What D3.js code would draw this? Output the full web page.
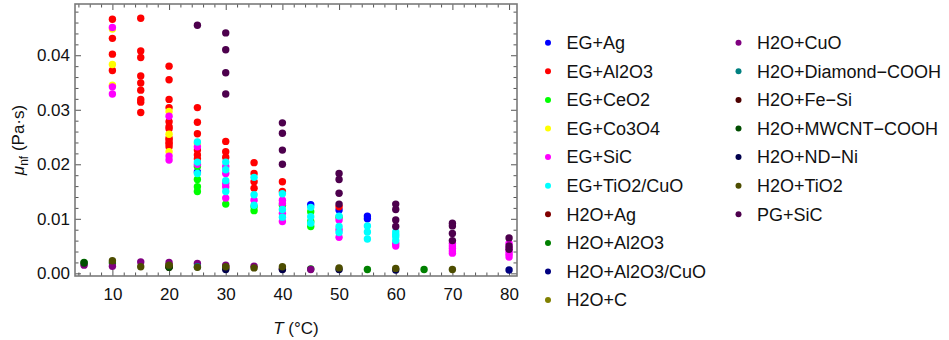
<!DOCTYPE html>
<html>
<head>
<meta charset="utf-8">
<script src="https://cdn.jsdelivr.net/npm/d3@7"></script>
<style>
  body { margin: 0; background: #fff; }
  svg { font-family: "Liberation Sans", Arial, sans-serif; }
</style>
</head>
<body>
<div id="chart"></div>
<script>
// series names and colours, in legend / drawing order
var seriesNames = ['EG+Ag', 'EG+Al2O3', 'EG+CeO2', 'EG+Co3O4', 'EG+SiC', 'EG+TiO2/CuO',
  'H2O+Ag', 'H2O+Al2O3', 'H2O+Al2O3/CuO', 'H2O+C', 'H2O+CuO', 'H2O+Diamond\u2212COOH',
  'H2O+Fe\u2212Si', 'H2O+MWCNT\u2212COOH', 'H2O+ND\u2212Ni', 'H2O+TiO2', 'PG+SiC'];
var seriesColors = ['#0000ff', '#ff0000', '#00ff00', '#ffff00', '#ff00ff', '#00ffff',
  '#800000', '#008000', '#000080', '#808000', '#800080', '#008080',
  '#4d0000', '#004d00', '#00004d', '#4d4d00', '#4d004d'];

// [T (°C), viscosity (Pa·s)]
var egAg = [[25, 0.0186], [45, 0.0126], [50, 0.0116], [55, 0.0105], [55, 0.0100]];
var egAl2o3 = [
  [10, 0.0466], [10, 0.0431], [10, 0.0402], [10, 0.0372],
  [15, 0.0468], [15, 0.0408], [15, 0.0396], [15, 0.0362], [15, 0.0349], [15, 0.0336], [15, 0.0319], [15, 0.0314], [15, 0.0295],
  [20, 0.0380], [20, 0.0355], [20, 0.0319], [20, 0.0304], [20, 0.0278], [20, 0.0269], [20, 0.0265], [20, 0.0248], [20, 0.0245], [20, 0.0240], [20, 0.0237], [20, 0.0232],
  [25, 0.0304], [25, 0.0277], [25, 0.0256], [25, 0.0226], [25, 0.0217], [25, 0.0210],
  [30, 0.0242], [30, 0.0223], [30, 0.0213],
  [35, 0.0203], [35, 0.0183], [35, 0.0168], [35, 0.0156],
  [40, 0.0168], [40, 0.0150], [50, 0.0122]];
var egCeo2 = [[25, 0.0196], [25, 0.0172], [25, 0.0159], [25, 0.0150], [30, 0.0127],
  [35, 0.0122], [35, 0.0115], [40, 0.0125], [45, 0.0113], [45, 0.0095], [45, 0.0086], [50, 0.0103]];
var egCo3o4 = [[10, 0.0448], [10, 0.0383], [10, 0.0345], [20, 0.0297], [20, 0.0255], [20, 0.0223], [25, 0.0238]];
var egSic = [[10, 0.0451], [10, 0.0342], [10, 0.0329], [20, 0.0288], [20, 0.0215], [20, 0.0208],
  [25, 0.0232], [25, 0.0200], [30, 0.0196], [30, 0.0183], [30, 0.0165], [30, 0.0159], [30, 0.0138],
  [35, 0.0134], [40, 0.0134], [40, 0.0128], [40, 0.0110], [40, 0.0095],
  [50, 0.0098], [50, 0.0080], [50, 0.0066], [60, 0.0055], [60, 0.0050],
  [70, 0.0055], [70, 0.0050], [70, 0.0046], [70, 0.0041], [70, 0.0037],
  [80, 0.0055], [80, 0.0047], [80, 0.0040], [80, 0.0035], [80, 0.0030]];
var egTio2Cuo = [[25, 0.0241], [25, 0.0204], [25, 0.0183], [30, 0.0204], [30, 0.0190], [30, 0.0170], [30, 0.0150],
  [35, 0.0176], [35, 0.0144], [35, 0.0125], [40, 0.0146], [40, 0.0117], [40, 0.0103],
  [45, 0.0121], [45, 0.0104], [45, 0.0092], [50, 0.0105], [50, 0.0086], [50, 0.0075],
  [55, 0.0087], [55, 0.0076], [55, 0.0063], [60, 0.0076], [60, 0.0071], [60, 0.0067], [60, 0.0060]];
var h2oAg = [[20, 0.0012], [30, 0.0010], [40, 0.0008]];
var h2oAl2o3 = [[5, 0.0020], [10, 0.0019], [20, 0.0015], [45, 0.0008], [55, 0.0007], [65, 0.0007]];
var h2oAl2o3Cuo = [[80, 0.0006]];
var h2oC = [[20, 0.0014], [30, 0.0012]];
var h2oCuo = [[5, 0.0015], [10, 0.0013], [15, 0.0021], [20, 0.0020], [25, 0.0018], [30, 0.0015], [35, 0.0013], [45, 0.0007]];
var h2oDiamond = [[25, 0.0012]];
var h2oFeSi = [[20, 0.0011]];
var h2oMwcnt = [[5, 0.0019], [20, 0.0011]];
var h2oNdNi = [[30, 0.0007], [40, 0.0007], [50, 0.0007], [60, 0.0006]];
var h2oTio2 = [[10, 0.0023], [15, 0.0012], [20, 0.0015], [25, 0.0011], [30, 0.0012], [35, 0.0010],
  [40, 0.0012], [50, 0.0010], [60, 0.0009], [70, 0.0007]];
var pgSic = [[25, 0.0455], [30, 0.0441], [30, 0.0410], [30, 0.0368], [30, 0.0329],
  [40, 0.0276], [40, 0.0257], [40, 0.0226], [40, 0.0200],
  [50, 0.0183], [50, 0.0172], [50, 0.0147], [50, 0.0127],
  [60, 0.0127], [60, 0.0117], [60, 0.0098], [60, 0.0086],
  [70, 0.0092], [70, 0.0087], [70, 0.0073], [70, 0.0060],
  [80, 0.0065], [80, 0.0050], [80, 0.0044]];

var seriesData = [egAg, egAl2o3, egCeo2, egCo3o4, egSic, egTio2Cuo, h2oAg, h2oAl2o3, h2oAl2o3Cuo,
  h2oC, h2oCuo, h2oDiamond, h2oFeSi, h2oMwcnt, h2oNdNi, h2oTio2, pgSic];

var xTicks = [10, 20, 30, 40, 50, 60, 70, 80];
var yTicks = [0, 0.01, 0.02, 0.03, 0.04];

var width = 949, height = 340;
var plot = { left: 75, right: 517, top: 4, bottom: 276 };

var svg = d3.select('#chart').append('svg')
  .attr('width', width)
  .attr('height', height);

var x = d3.scaleLinear().domain([3.4, 81.4]).range([plot.left, plot.right]);
var y = d3.scaleLinear().domain([-0.00049, 0.0494]).range([plot.bottom, plot.top]);

var xMinor = d3.range(4, 81, 2).filter(function (v) { return v % 10 !== 0; });
var yMinor = d3.range(0, 0.0491, 0.002).filter(function (v) { return Math.round(v * 1000) % 10 !== 0; });

function styleAxis(g) {
  g.select('.domain').remove();
  g.selectAll('.tick line').attr('stroke', '#555').attr('stroke-width', 1);
  g.selectAll('.tick text').attr('fill', '#111').style('font-size', '17px');
}

// bottom
svg.append('g').attr('transform', 'translate(0,' + plot.bottom + ')')
  .call(d3.axisBottom(x).tickValues(xTicks).tickFormat(d3.format('d')).tickSize(-6).tickPadding(12))
  .call(styleAxis);
svg.append('g').attr('transform', 'translate(0,' + plot.bottom + ')')
  .call(d3.axisBottom(x).tickValues(xMinor).tickFormat('').tickSize(-3.5))
  .call(styleAxis);
// top
svg.append('g').attr('transform', 'translate(0,' + plot.top + ')')
  .call(d3.axisTop(x).tickValues(xTicks).tickFormat('').tickSize(-6))
  .call(styleAxis);
svg.append('g').attr('transform', 'translate(0,' + plot.top + ')')
  .call(d3.axisTop(x).tickValues(xMinor).tickFormat('').tickSize(-3.5))
  .call(styleAxis);
// left
svg.append('g').attr('transform', 'translate(' + plot.left + ',0)')
  .call(d3.axisLeft(y).tickValues(yTicks).tickFormat(d3.format('.2f')).tickSize(-6).tickPadding(5))
  .call(styleAxis);
svg.append('g').attr('transform', 'translate(' + plot.left + ',0)')
  .call(d3.axisLeft(y).tickValues(yMinor).tickFormat('').tickSize(-3.5))
  .call(styleAxis);
// right
svg.append('g').attr('transform', 'translate(' + plot.right + ',0)')
  .call(d3.axisRight(y).tickValues(yTicks).tickFormat('').tickSize(-6))
  .call(styleAxis);
svg.append('g').attr('transform', 'translate(' + plot.right + ',0)')
  .call(d3.axisRight(y).tickValues(yMinor).tickFormat('').tickSize(-3.5))
  .call(styleAxis);

// frame
svg.append('rect')
  .attr('x', plot.left).attr('y', plot.top)
  .attr('width', plot.right - plot.left).attr('height', plot.bottom - plot.top)
  .attr('fill', 'none').attr('stroke', '#7a7a7a').attr('stroke-width', 1.6);

// points
seriesData.forEach(function (pts, i) {
  svg.append('g')
    .selectAll('circle')
    .data(pts)
    .enter()
    .append('circle')
    .attr('cx', function (d) { return x(d[0]); })
    .attr('cy', function (d) { return y(d[1]); })
    .attr('r', 3.7)
    .style('fill', seriesColors[i]);
});

// axis titles
var xt = svg.append('text')
  .attr('x', (plot.left + plot.right) / 2)
  .attr('y', 334)
  .attr('text-anchor', 'middle')
  .style('font-size', '17px')
  .attr('fill', '#111');
xt.append('tspan').style('font-style', 'italic').text('T');
xt.append('tspan').text(' (\u00B0C)');

var yt = svg.append('text')
  .attr('transform', 'translate(24,' + (plot.top + plot.bottom) / 2 + ') rotate(-90)')
  .attr('text-anchor', 'middle')
  .style('font-size', '17px')
  .attr('fill', '#111');
yt.append('tspan').style('font-style', 'italic').text('\u03BC');
yt.append('tspan').attr('dy', 4).style('font-size', '12px').text('nf');
yt.append('tspan').attr('dy', -4).text(' (Pa\u00B7s)');

// legend
var legend = svg.append('g');
seriesNames.forEach(function (name, i) {
  var col = i < 10 ? 0 : 1;
  var row = i < 10 ? i : i - 10;
  var lx = col === 0 ? 548 : 738.5;
  var ly = 42.7 + row * 28.6;
  legend.append('circle')
    .attr('cx', lx).attr('cy', ly).attr('r', 3)
    .style('fill', seriesColors[i]);
  legend.append('text')
    .attr('x', lx + 18.5).attr('y', ly)
    .attr('dy', '0.35em')
    .style('font-size', '18px')
    .attr('fill', '#111')
    .text(name);
});
</script>
</body>
</html>
